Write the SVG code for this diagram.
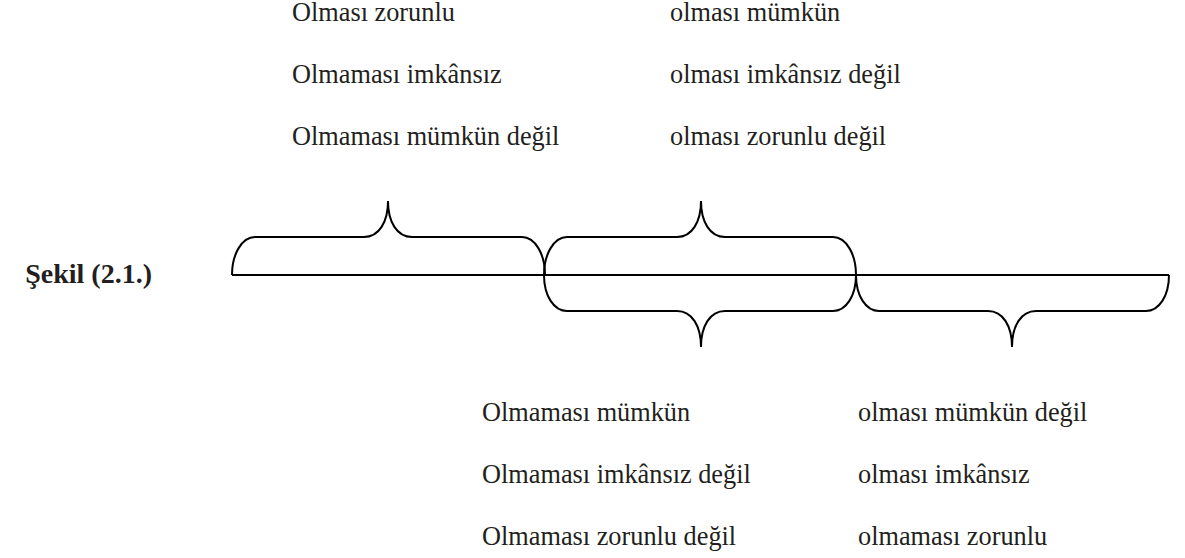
<svg xmlns="http://www.w3.org/2000/svg" width="1185" height="558" viewBox="0 0 1185 558">
<style>
.t{font-family:"Liberation Serif","Times New Roman",serif;font-size:26.3px;fill:#231f20}
.b{font-family:"Liberation Serif","Times New Roman",serif;font-size:28px;font-weight:bold;fill:#231f20}
.s{fill:none;stroke:#000;stroke-width:2}
</style>
<rect width="1185" height="558" fill="#fff"/>
<g id="label"><text class="b" x="152" y="283" text-anchor="end">Şekil (2.1.)</text></g>
<g id="top-left">
<text class="t" x="292" y="21">Olması zorunlu</text>
<text class="t" x="292" y="83">Olmaması imkânsız</text>
<text class="t" x="292" y="145">Olmaması mümkün değil</text>
</g>
<g id="top-right">
<text class="t" x="670" y="21">olması mümkün</text>
<text class="t" x="670" y="83">olması imkânsız değil</text>
<text class="t" x="670" y="145">olması zorunlu değil</text>
</g>
<g id="bottom-left">
<text class="t" x="482" y="421">Olmaması mümkün</text>
<text class="t" x="482" y="483">Olmaması imkânsız değil</text>
<text class="t" x="482" y="545">Olmaması zorunlu değil</text>
</g>
<g id="bottom-right">
<text class="t" x="858" y="421">olması mümkün değil</text>
<text class="t" x="858" y="483">olması imkânsız</text>
<text class="t" x="858" y="545">olmaması zorunlu</text>
</g>
<g id="connectors" class="s">
<path d="M232,275 H1169"/>
<path d="M232,275 C232,254 242,237 255,237 L364,237 C379,237 388,222 388,201 C388,222 397,237 412,237 L522,237 C535,237 545,254 545,275"/>
<path d="M544,275 C544,254 554,237 567,237 L677,237 C692,237 701,222 701,201 C701,222 710,237 725,237 L833,237 C846,237 856,254 856,275"/>
<path d="M544,275 C544,296 554,311 567,311 L677,311 C692,311 701,326 701,347 C701,326 710,311 725,311 L833,311 C846,311 856,296 856,275"/>
<path d="M856,275 C856,296 866,311 879,311 L988,311 C1003,311 1012,326 1012,347 C1012,326 1021,311 1036,311 L1146,311 C1159,311 1169,296 1169,275"/>
</g>
</svg>
